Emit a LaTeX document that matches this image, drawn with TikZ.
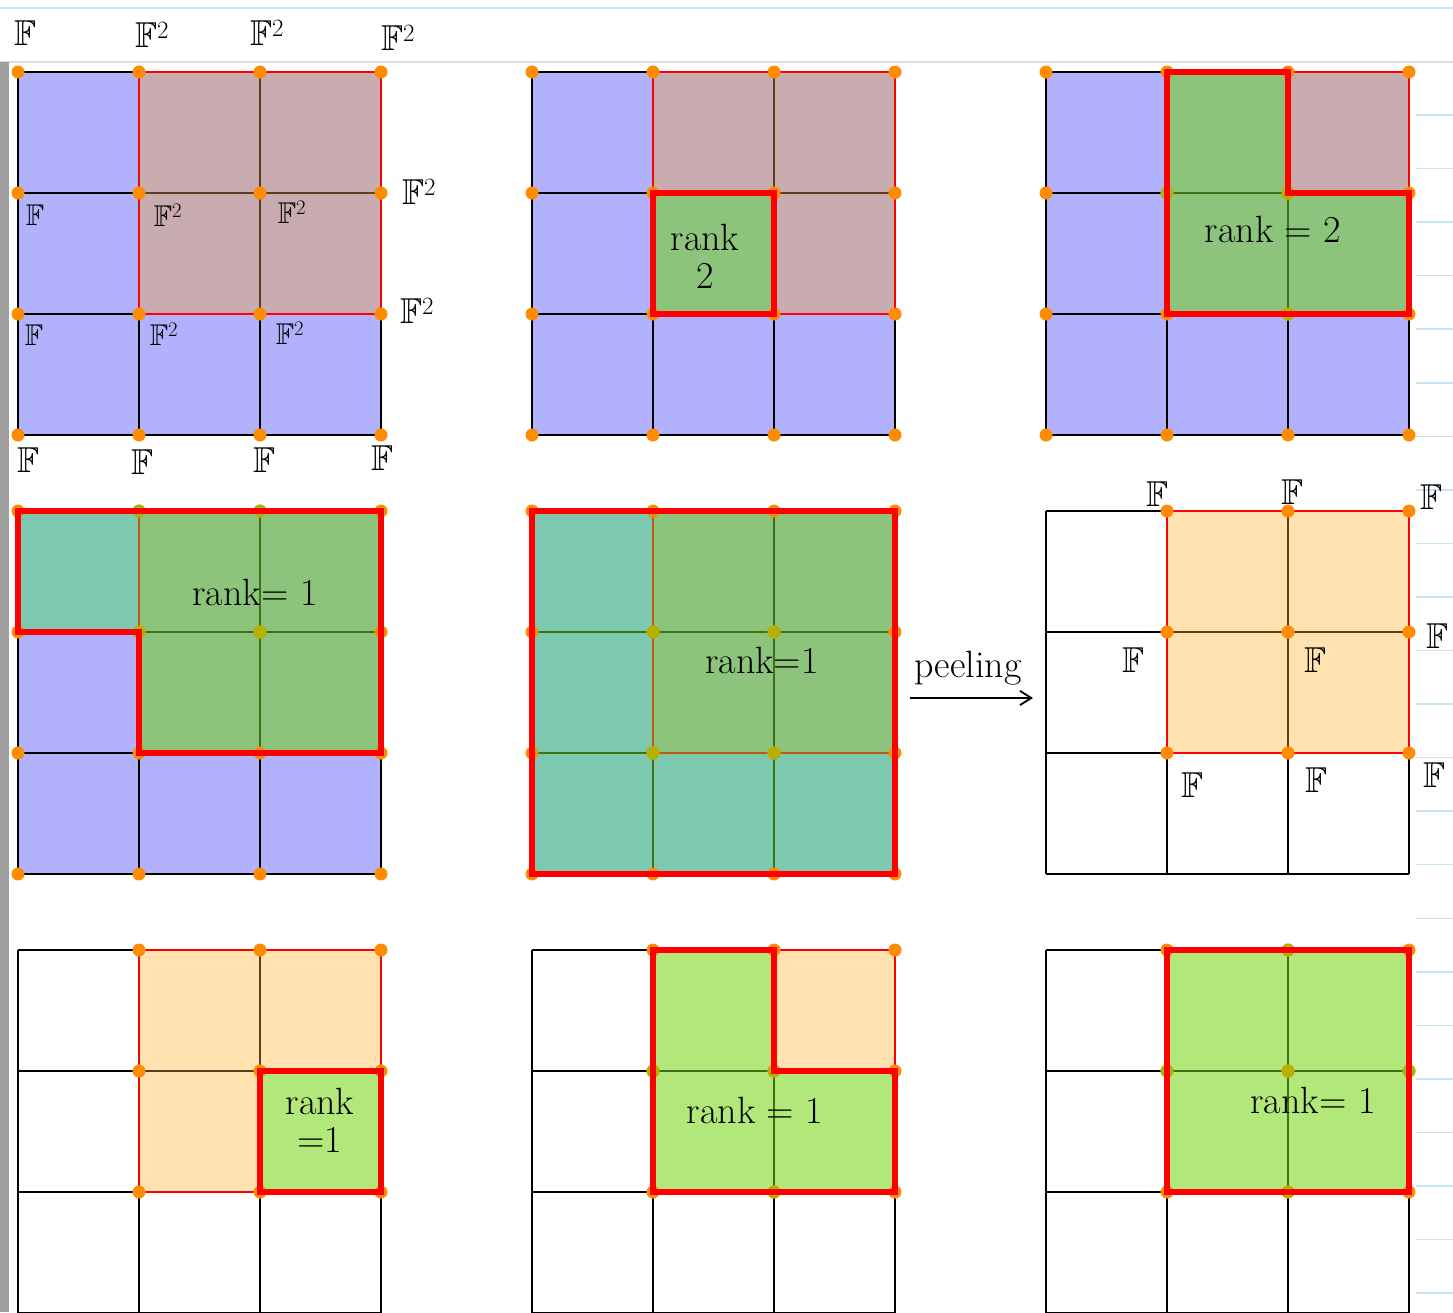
\documentclass[tikz,border=0pt]{standalone}
\usepackage{amsmath,amssymb}
\usepackage{xcolor}
\usepackage{tikz}
\usetikzlibrary{arrows.meta,positioning,calc}
\definecolor{cellblue}{RGB}{178,178,252}
\definecolor{cellmauve}{RGB}{200,172,176}
\definecolor{cellgreen}{RGB}{141,196,124}
\definecolor{cellteal}{RGB}{124,201,176}
\definecolor{cellpeach}{RGB}{255,226,176}
\definecolor{celllime}{RGB}{178,232,122}
\definecolor{dotorange}{RGB}{255,140,0}
\definecolor{dotolive}{RGB}{182,176,0}
\definecolor{linebrown}{RGB}{90,62,30}
\definecolor{linegreen}{RGB}{62,112,20}
\definecolor{lineamber}{RGB}{190,90,20}
\definecolor{rulerblue}{RGB}{200,228,248}
\definecolor{headgray}{RGB}{218,222,228}
\definecolor{bargray}{RGB}{158,158,158}
\tikzset{
  gridline/.style={
    draw=black,
    line width=1.3pt
  },
  brownline/.style={
    draw=linebrown,
    line width=1.3pt
  },
  greenline/.style={
    draw=linegreen,
    line width=1.3pt
  },
  amberline/.style={
    draw=lineamber,
    line width=1.3pt
  },
  thinred/.style={
    draw=red,
    line width=1.3pt
  },
  thickred/.style={
    draw=red,
    line width=6pt,
    line join=miter
  },
  orangedot/.style={fill=dotorange},
  olivedot/.style={fill=dotolive},
  flabel/.style={
    font=\fontsize{36}{38}\selectfont,
    inner sep=0pt
  },
  fsmall/.style={
    font=\fontsize{30}{32}\selectfont,
    inner sep=0pt
  },
  ranktext/.style={
    font=\fontsize{38}{38}\selectfont,
    align=center,
    inner sep=0pt
  },
  peelarrow/.style={-{Straight Barb[length=4mm,width=5mm]}, line width=1.8pt, black}
}
\begin{document}
\begin{tikzpicture}[x=1pt,y=-1pt]
\useasboundingbox (0,0) rectangle (1453,1312);
% notebook page
\draw[rulerblue, line width=1.5pt] (0,8) -- (1453,8);
\draw[headgray, line width=2pt] (0,62) -- (1453,62);
\fill[bargray] (0,62) rectangle (9,1312);
\foreach \k in {0,...,22}
  \draw[rulerblue, line width=1.5pt] (1416,115+53.55*\k) -- (1453,115+53.55*\k);

% top left
\begin{scope}[shift={(18,72)},x=121pt,y=-121pt]
  \fill[cellblue] (0,0) rectangle (3,3);
  \fill[cellmauve] (1,0) rectangle (3,2);
  \foreach \k in {0,...,3} {
    \draw[gridline] (\k,0) -- (\k,3);
    \draw[gridline] (0,\k) -- (3,\k);
  }
  \draw[brownline] (2,0) -- (2,2) (1,1) -- (3,1);
  \draw[thinred] (1,0) rectangle (3,2);
  \foreach \i in {0,...,3}
    \foreach \j in {0,...,3}
      \fill[orangedot] (\i,\j) circle (6.5pt);
\end{scope}

% top middle
\begin{scope}[shift={(532,72)},x=121pt,y=-121pt]
  \fill[cellblue] (0,0) rectangle (3,3);
  \fill[cellmauve] (1,0) rectangle (3,2);
  \fill[cellgreen] (1,1) rectangle (2,2);
  \foreach \k in {0,...,3} {
    \draw[gridline] (\k,0) -- (\k,3);
    \draw[gridline] (0,\k) -- (3,\k);
  }
  \draw[brownline] (2,0) -- (2,2) (1,1) -- (3,1);
  \draw[thinred] (1,0) rectangle (3,2);
  \foreach \i in {0,...,3}
    \foreach \j in {0,...,3}
      \fill[orangedot] (\i,\j) circle (6.5pt);
  \draw[thickred] (1,1) rectangle (2,2);
\end{scope}

% top right
\begin{scope}[shift={(1046,72)},x=121pt,y=-121pt]
  \fill[cellblue] (0,0) rectangle (3,3);
  \fill[cellmauve] (2,0) rectangle (3,1);
  \fill[cellgreen] (1,0) -- (2,0) -- (2,1) -- (3,1) -- (3,2) -- (1,2) -- cycle;
  \foreach \k in {0,...,3} {
    \draw[gridline] (\k,0) -- (\k,3);
    \draw[gridline] (0,\k) -- (3,\k);
  }
  \draw[greenline] (1,1) -- (2,1) -- (2,2);
  \draw[thinred] (2,0) -- (3,0) -- (3,1);
  \foreach \i in {0,...,3}
    \foreach \j in {0,...,3}
      \fill[orangedot] (\i,\j) circle (6.5pt);
  \foreach \p in {(1,1),(2,1),(2,2)}
    \fill[olivedot] \p circle (6.5pt);
  \draw[thickred] (1,0) -- (2,0) -- (2,1) -- (3,1) -- (3,2) -- (1,2) -- cycle;
\end{scope}

% middle left
\begin{scope}[shift={(18,511)},x=121pt,y=-121pt]
  \fill[cellblue] (0,0) rectangle (3,3);
  \fill[cellteal] (0,0) rectangle (1,1);
  \fill[cellgreen] (1,0) rectangle (3,2);
  \foreach \k in {0,...,3} {
    \draw[gridline] (\k,0) -- (\k,3);
    \draw[gridline] (0,\k) -- (3,\k);
  }
  \draw[greenline] (2,0) -- (2,2) (1,1) -- (3,1);
  \draw[amberline] (1,0) -- (1,1);
  \foreach \i in {0,...,3}
    \foreach \j in {0,...,3}
      \fill[orangedot] (\i,\j) circle (6.5pt);
  \foreach \p in {(1,1),(2,1),(1,0),(2,0)}
    \fill[olivedot] \p circle (6.5pt);
  \draw[thickred] (0,0) -- (3,0) -- (3,2) -- (1,2) -- (1,1) -- (0,1) -- cycle;
\end{scope}

% middle centre
\begin{scope}[shift={(532,511)},x=121pt,y=-121pt]
  \fill[cellteal] (0,0) rectangle (3,3);
  \fill[cellgreen] (1,0) rectangle (3,2);
  \foreach \k in {0,...,3} {
    \draw[greenline] (\k,0) -- (\k,3);
    \draw[greenline] (0,\k) -- (3,\k);
  }
  \draw[amberline] (1,0) -- (1,2) -- (3,2);
  \foreach \i in {0,...,3}
    \foreach \j in {0,...,3}
      \fill[orangedot] (\i,\j) circle (6.5pt);
  \foreach \p in {(1,1),(2,1),(1,2),(2,2)}
    \fill[olivedot] \p circle (6.5pt);
  \draw[thickred] (0,0) rectangle (3,3);
\end{scope}

% middle right
\begin{scope}[shift={(1046,511)},x=121pt,y=-121pt]
  \fill[cellpeach] (1,0) rectangle (3,2);
  \foreach \k in {0,...,3} {
    \draw[gridline] (\k,0) -- (\k,3);
    \draw[gridline] (0,\k) -- (3,\k);
  }
  \draw[brownline] (2,0) -- (2,2) (1,1) -- (3,1);
  \draw[thinred] (1,0) rectangle (3,2);
  \foreach \i in {1,...,3}
    \foreach \j in {0,...,2}
      \fill[orangedot] (\i,\j) circle (6.5pt);
\end{scope}

% bottom left
\begin{scope}[shift={(18,950)},x=121pt,y=-121pt]
  \fill[cellpeach] (1,0) rectangle (3,2);
  \fill[celllime] (2,1) rectangle (3,2);
  \foreach \k in {0,...,3} {
    \draw[gridline] (\k,0) -- (\k,3);
    \draw[gridline] (0,\k) -- (3,\k);
  }
  \draw[brownline] (2,0) -- (2,1) (1,1) -- (2,1);
  \draw[thinred] (1,0) rectangle (3,2);
  \foreach \i in {1,...,3}
    \foreach \j in {0,...,2}
      \fill[orangedot] (\i,\j) circle (6.5pt);
  \draw[thickred] (2,1) rectangle (3,2);
\end{scope}

% bottom middle
\begin{scope}[shift={(532,950)},x=121pt,y=-121pt]
  \fill[cellpeach] (2,0) rectangle (3,1);
  \fill[celllime] (1,0) -- (2,0) -- (2,1) -- (3,1) -- (3,2) -- (1,2) -- cycle;
  \foreach \k in {0,...,3} {
    \draw[gridline] (\k,0) -- (\k,3);
    \draw[gridline] (0,\k) -- (3,\k);
  }
  \draw[greenline] (1,1) -- (2,1) -- (2,2);
  \draw[thinred] (2,0) -- (3,0) -- (3,1);
  \foreach \i in {1,...,3}
    \foreach \j in {0,...,2}
      \fill[orangedot] (\i,\j) circle (6.5pt);
  \foreach \p in {(1,1),(2,1),(2,2)}
    \fill[olivedot] \p circle (6.5pt);
  \draw[thickred] (1,0) -- (2,0) -- (2,1) -- (3,1) -- (3,2) -- (1,2) -- cycle;
\end{scope}

% bottom right
\begin{scope}[shift={(1046,950)},x=121pt,y=-121pt]
  \fill[celllime] (1,0) rectangle (3,2);
  \foreach \k in {0,...,3} {
    \draw[gridline] (\k,0) -- (\k,3);
    \draw[gridline] (0,\k) -- (3,\k);
  }
  \draw[greenline] (2,0) -- (2,2) (1,1) -- (3,1);
  \foreach \i in {1,...,3}
    \foreach \j in {0,...,2}
      \fill[orangedot] (\i,\j) circle (6.5pt);
  \foreach \p in {(2,1),(2,0),(2,2),(1,1),(3,1)}
    \fill[olivedot] \p circle (6.5pt);
  \draw[thickred] (1,0) rectangle (3,2);
\end{scope}

% field labels
\node[flabel] (hd0) at (25,33) {$\mathbb{F}$};
\node[flabel] (hd1) at (152,35) {$\mathbb{F}^2$};
\node[flabel] (hd2) at (267,33) {$\mathbb{F}^2$};
\node[flabel] (hd3) at (398,38) {$\mathbb{F}^2$};
\node[flabel] (rt1) at (419,192) {$\mathbb{F}^2$};
\node[flabel] (rt2) at (417,311) {$\mathbb{F}^2$};
\node[fsmall] (in11) at (35,215) {$\mathbb{F}$};
\node[fsmall] (in12) at (168,215) {$\mathbb{F}^2$};
\node[fsmall] (in13) at (292,212) {$\mathbb{F}^2$};
\node[fsmall] (in21) at (34,335) {$\mathbb{F}$};
\node[fsmall] (in22) at (164,334) {$\mathbb{F}^2$};
\node[fsmall] (in23) at (290,333) {$\mathbb{F}^2$};
\node[flabel] (bt0) at (28,460) {$\mathbb{F}$};
\node[flabel] (bt1) at (142,462) {$\mathbb{F}$};
\node[flabel] (bt2) at (264,460) {$\mathbb{F}$};
\node[flabel] (bt3) at (382,458) {$\mathbb{F}$};

\node[flabel] (pl1) at (1157,494) {$\mathbb{F}$};
\node[flabel] (pl2) at (1292,492) {$\mathbb{F}$};
\node[flabel] (pl3) at (1431,497) {$\mathbb{F}$};
\node[flabel] (pl4) at (1437,636) {$\mathbb{F}$};
\node[flabel] (pl5) at (1133,660) {$\mathbb{F}$};
\node[flabel] (pl6) at (1315,660) {$\mathbb{F}$};
\node[flabel] (pl7) at (1192,785) {$\mathbb{F}$};
\node[flabel] (pl8) at (1316,780) {$\mathbb{F}$};
\node[flabel] (pl9) at (1434,775) {$\mathbb{F}$};

% ranks
\node[ranktext] (rk1) at (705,256) {rank\\2};
\node[ranktext] (rk2) at (1273,229) {rank = 2};
\node[ranktext] (rk3) at (255,592) {rank= 1};
\node[ranktext] (rk4) at (762,660) {rank=1};
\node[ranktext] (rk5) at (320,1120) {rank\\=1};
\node[ranktext] (rk6) at (755,1110) {rank = 1};
\node[ranktext] (rk7) at (1313,1100) {rank= 1};

% peeling
\node[ranktext] (peeltxt) at (968,668) {peeling};
\coordinate (peelA) at (910,698);
\coordinate (peelB) at (1033,698);
\draw[peelarrow] (peelA) -- (peelB);
\end{tikzpicture}
\end{document}
